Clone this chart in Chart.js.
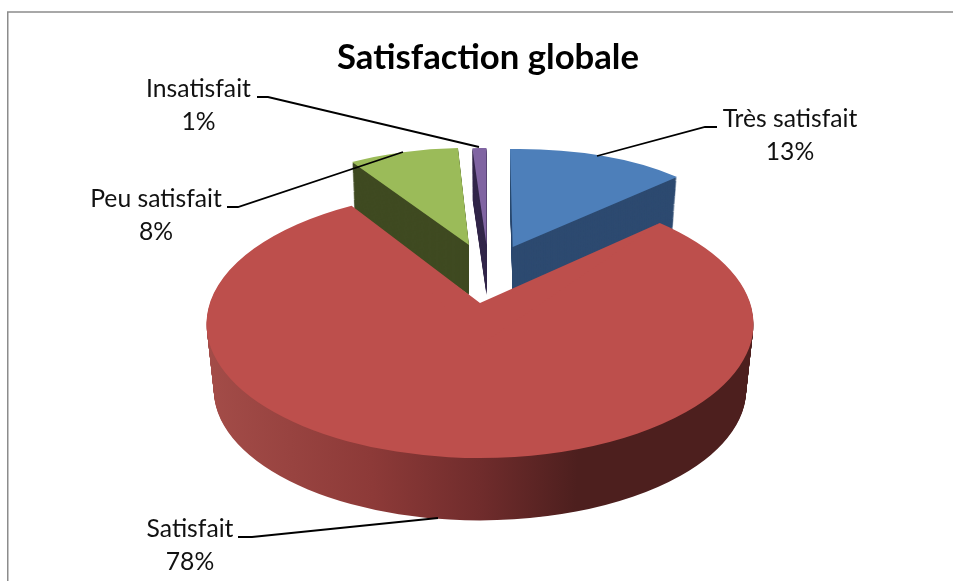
<!DOCTYPE html>
<html lang="fr">
<head>
<meta charset="utf-8">
<title>Satisfaction globale</title>
<style>
    html, body { margin: 0; padding: 0; background: #fff; overflow: hidden; }
    canvas { display: block; }
</style>
<script src="https://cdn.jsdelivr.net/npm/chart.js@4"></script>
</head>
<body>
<canvas id="pie" width="953" height="581"></canvas>
<script>
    const TITLE = 'Satisfaction globale';
    const categories = ['Très satisfait', 'Satisfait', 'Peu satisfait', 'Insatisfait'];
    const percents = [13, 78, 8, 1];

    const topColors = ['#4d7fba', '#bd4f4c', '#9bbb59', '#8064a2'];
    const wallColors = ['#2d4a70', null, '#3f4a21', '#33274a'];
    const FONT = 'Lato, "Open Sans", sans-serif';

    // perspective of each slice: a b c d = projected unit circle, e f = apex on the page
    const poses = [
        { m: [228, -4, 2.7, 98], e: 512.7, f: 247, depth: 50, taper: 0.024 },
        { m: [273.5, 0, 0, 134], e: 480, f: 324, depth: 66, taper: 0.027, lift: 21, spread: [5.7, 4.4] },
        { m: [223, 1.9, -3, 97], e: 469, f: 245, depth: 50, taper: 0.017 },
        { m: [225, 0, 0, 97], e: 486.5, f: 245, depth: 50, taper: 0.02 },
    ];
    const drawOrder = [2, 3, 0, 1];

    // label anchors (centre x, first baseline) and leader lines
    const labelPos = [[790, 127], [190, 537], [156, 207], [198.5, 97]];
    const leaders = [
        [[717, 127], [705, 127], [597, 156]],
        [[238, 537], [252, 537], [438, 518]],
        [[227, 207], [238, 207], [403, 152]],
        [[257, 97], [268, 97], [479, 147]],
    ];

    function paintSlice(ctx, el, pose, fill, shift, shrink) {
        const r = el.outerRadius;
        const m = pose.m;
        const saved = el.options;
        el.options = Object.assign({}, saved, { backgroundColor: fill });
        ctx.save();
        ctx.translate(pose.e, pose.f + shift);
        ctx.scale(shrink, shrink);
        ctx.transform(m[0] / r, m[1] / r, m[2] / r, m[3] / r, 0, 0);
        ctx.translate(-el.x, -el.y);
        el.draw(ctx);
        ctx.restore();
        el.options = saved;
    }

    function rimPoint(pose, angle) {
        const m = pose.m;
        const cos = Math.cos(angle);
        const sin = Math.sin(angle);
        return [pose.e + m[0] * cos + m[2] * sin, pose.f + m[1] * cos + m[3] * sin];
    }

    function rimGradient(ctx, el) {
        // runs across the whole disc, in the arc's own coordinates
        const g = ctx.createLinearGradient(el.x - el.outerRadius, 0, el.x + el.outerRadius, 0);
        g.addColorStop(0, '#a34c48');
        g.addColorStop(0.3, '#8d3a38');
        g.addColorStop(0.5, '#702c2c');
        g.addColorStop(0.68, '#4d1f1e');
        g.addColorStop(1, '#4d1f1e');
        return g;
    }

    const pie3d = {
        id: 'pie3d',
        beforeDraw(chart) {
            const ctx = chart.ctx;
            ctx.save();
            ctx.strokeStyle = '#8c8c8c';
            ctx.lineWidth = 1.5;
            ctx.beginPath();
            ctx.moveTo(7.75, 581);
            ctx.lineTo(7.75, 12);
            ctx.lineTo(953, 12);
            ctx.stroke();
            ctx.restore();
        },
        beforeDatasetDraw(chart, args) {
            const ctx = chart.ctx;
            const arcs = args.meta.data;

            drawOrder.forEach(function (i) {
                const el = arcs[i];
                const pose = poses[i];
                const oldStart = el.startAngle;
                const oldEnd = el.endAngle;
                const oldCirc = el.circumference;
                if (pose.spread) {
                    el.startAngle = oldStart - pose.spread[0] * Math.PI / 180;
                    el.endAngle = oldEnd + pose.spread[1] * Math.PI / 180;
                    el.circumference = el.endAngle - el.startAngle;
                }

                const wall = wallColors[i] || rimGradient(ctx, el);
                for (let d = pose.depth; d > 0; d--) {
                    paintSlice(ctx, el, pose, wall, d, 1 - pose.taper * d / pose.depth);
                }
                paintSlice(ctx, el, pose, topColors[i], 0, 1);

                // the apex sits above the ellipse centre because of the perspective
                if (pose.lift) {
                    const a = rimPoint(pose, el.startAngle);
                    const b = rimPoint(pose, el.endAngle);
                    ctx.fillStyle = topColors[i];
                    ctx.beginPath();
                    ctx.moveTo(pose.e, pose.f + pose.lift);
                    ctx.lineTo(a[0], a[1]);
                    ctx.lineTo(pose.e, pose.f - pose.lift);
                    ctx.lineTo(b[0], b[1]);
                    ctx.closePath();
                    ctx.fill();
                }

                el.startAngle = oldStart;
                el.endAngle = oldEnd;
                el.circumference = oldCirc;
            });
            return false;
        },
        afterDatasetsDraw(chart) {
            const ctx = chart.ctx;
            ctx.save();
            ctx.strokeStyle = '#000';
            ctx.lineWidth = 1.8;
            leaders.forEach(function (pts) {
                ctx.beginPath();
                pts.forEach(function (p, k) {
                    if (k === 0) ctx.moveTo(p[0], p[1]);
                    else ctx.lineTo(p[0], p[1]);
                });
                ctx.stroke();
            });

            ctx.fillStyle = '#111';
            ctx.font = '24.7px ' + FONT;
            ctx.textAlign = 'center';
            ctx.textBaseline = 'alphabetic';
            categories.forEach(function (name, i) {
                const p = labelPos[i];
                ctx.fillText(name, p[0], p[1]);
                ctx.fillText(percents[i] + '%', p[0], p[1] + 33);
            });
            ctx.restore();
        },
    };

    new Chart(document.getElementById('pie').getContext('2d'), {
        type: 'pie',
        data: {
            labels: categories,
            datasets: [{ data: percents, backgroundColor: topColors, borderWidth: 0 }],
        },
        options: {
            responsive: false,
            animation: false,
            layout: { padding: { left: 23 } },
            plugins: {
                legend: { display: false },
                tooltip: { enabled: false },
                title: {
                    display: true,
                    text: TITLE,
                    color: '#000',
                    font: { family: FONT, size: 34.7, weight: 'bold' },
                    padding: { top: 37, bottom: 10 },
                },
            },
        },
        plugins: [pie3d],
    });
</script>
</body>
</html>
